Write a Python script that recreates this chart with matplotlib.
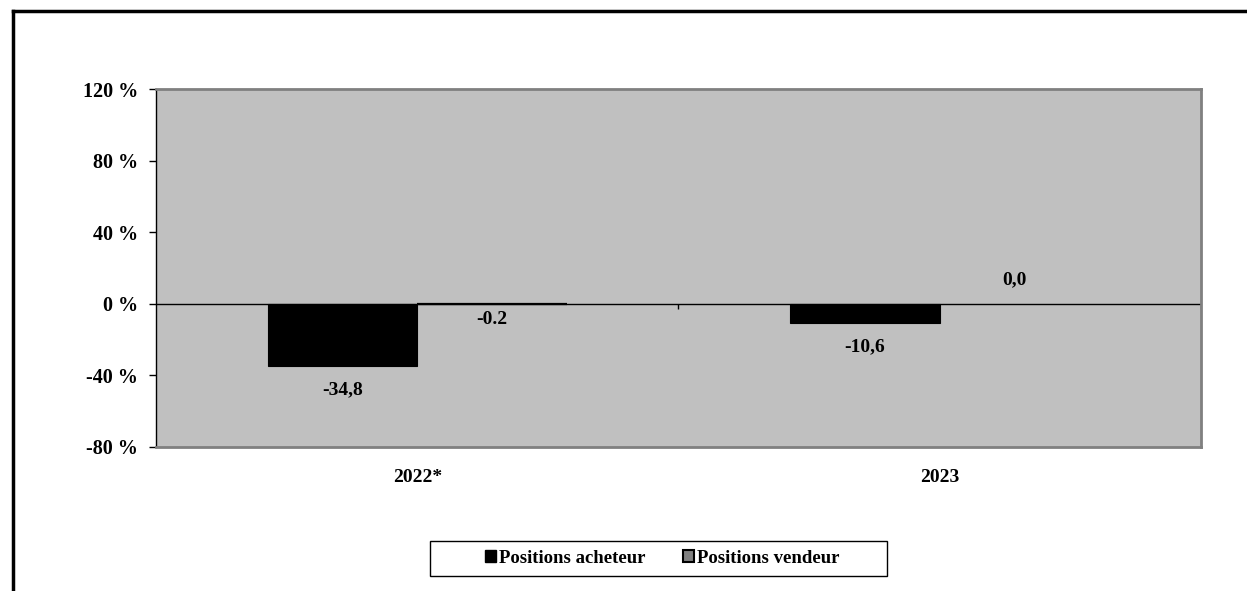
import numpy as np
import matplotlib.pyplot as plt
from matplotlib.lines import Line2D
from matplotlib.patches import Rectangle

plt.rcParams['font.family'] = ['Liberation Serif', 'DejaVu Serif']
plt.rcParams['font.weight'] = 'bold'

years = ["2022*", "2023"]
acheteur = [-34.8, -10.6]
vendeur = [-0.2, 0.0]
acheteur_labels = ["-34,8", "-10,6"]
vendeur_labels = ["-0.2", "0,0"]
series_names = ["Positions acheteur", "Positions vendeur"]
y_ticks = [-80, -40, 0, 40, 80, 120]

fig = plt.figure(figsize=(12.47, 5.91), dpi=100)
ax = fig.add_axes([0.1251, 0.2437, 0.838, 0.6057])
ax.set_facecolor('#C0C0C0')

x = np.arange(len(years))
width = 1 / 3.5
b1 = ax.bar(x - width / 2, acheteur, width, color='black', edgecolor='black',
            linewidth=0.8, label=series_names[0], zorder=3)
# zero-height bars get no outline
b2 = ax.bar(x + width / 2, vendeur, width, color='#808080', edgecolor='black',
            linewidth=[1.6 if v != 0 else 0 for v in vendeur], label=series_names[1], zorder=3)

# value labels: below negative bars, above zero
for bar, lab in zip(b1, acheteur_labels):
    ax.annotate(lab, (bar.get_x() + bar.get_width() / 2, bar.get_height()),
                xytext=(0, -17), textcoords='offset points', ha='center', va='center',
                fontsize=14, fontweight='bold')
for bar, val, lab in zip(b2, vendeur, vendeur_labels):
    off = -11 if val < 0 else 17
    ax.annotate(lab, (bar.get_x() + bar.get_width() / 2, val),
                xytext=(0, off), textcoords='offset points', ha='center', va='center',
                fontsize=14, fontweight='bold')

ax.set_xlim(-0.5, len(years) - 0.5)
ax.set_ylim(-80, 120)
ax.set_yticks(y_ticks)
ax.set_yticklabels([f"{v} %" for v in y_ticks], fontsize=14.5, fontweight='bold')
ax.set_xticks(x)
ax.set_xticklabels(years, fontsize=14, fontweight='bold')
ax.tick_params(axis='x', length=0, pad=16)
ax.tick_params(axis='y', length=5, width=1, direction='out', pad=8)

# zero line with category separators
ax.axhline(0, color='black', linewidth=1, zorder=2)
ax.vlines(np.arange(len(years)) + 0.5, -3, 0, color='black', linewidth=1, zorder=2)

for side in ['top', 'right', 'bottom']:
    ax.spines[side].set_color('#808080')
    ax.spines[side].set_linewidth(2)
ax.spines['left'].set_color('black')
ax.spines['left'].set_linewidth(1)

# outer frame (left and top edges)
fig.add_artist(Line2D([0.0104, 0.0104], [0, 0.9814], color='black', linewidth=2.5))
fig.add_artist(Line2D([0.0104, 1.0], [0.9814, 0.9814], color='black', linewidth=2.5))

fig.add_artist(Rectangle((0.3448, 0.0254), 0.3665, 0.0592, transform=fig.transFigure,
                         facecolor='white', edgecolor='black', linewidth=1))
leg_handles = [Rectangle((0, 0), 1, 1, facecolor='black', edgecolor='black', linewidth=1),
               Rectangle((0, 0), 1, 1, facecolor='#808080', edgecolor='black', linewidth=1.5)]
fig.legend(handles=leg_handles, labels=series_names, loc='center', bbox_to_anchor=(0.531, 0.055),
           ncol=2, frameon=False, handlelength=0.6, handleheight=0.6,
           handletextpad=0.15, columnspacing=2.0, prop={'weight': 'bold', 'size': 13.5})

fig.savefig('out.png', dpi=100)
